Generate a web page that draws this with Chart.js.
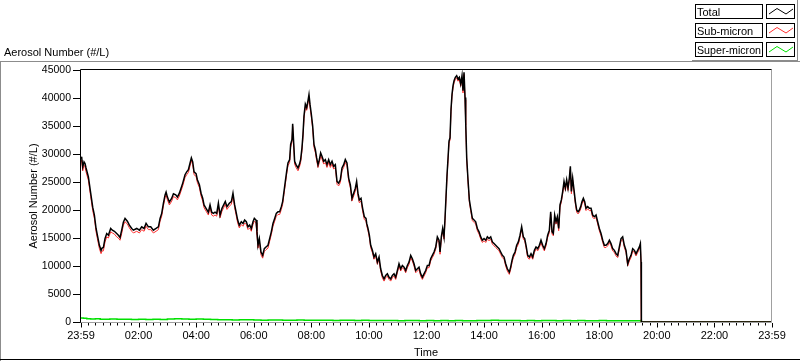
<!DOCTYPE html>
<html>
<head>
<meta charset="utf-8">
<script src="https://cdn.jsdelivr.net/npm/chart.js@4.4.1/dist/chart.umd.min.js"></script>
<style>
  html, body { margin: 0; padding: 0; background: #ffffff; }
  #wrap { width: 800px; height: 361px; }
</style>
</head>
<body>
<div id="wrap"><canvas id="c" width="800" height="361"></canvas></div>
<script>
// ---- DATA (minutes after the 23:59 start; values in #/L) ----
const timeMin = [
  0, 1.5, 3.6, 6.3, 8.4, 10.5, 15.4, 20.2, 24.4, 27.9,
  31.4, 34.1, 38.3, 41.8, 43.9, 46.6, 50.1, 53.6, 57.1, 61.9,
  65.4, 69.6, 74.4, 77.9, 81.4, 84.8, 88.3, 91.8, 96.6, 100.8,
  105.7, 109.2, 116.1, 121.7, 126.5, 131.4, 135.6, 140.4, 145.3, 150.8,
  156.4, 161.3, 164.8, 168.2, 171.7, 175.2, 177.3, 180.1, 184.2, 189.1,
  192.6, 197.4, 200.9, 205.0, 208.5, 212.0, 216.8, 220.3, 223.8, 227.3,
  230.0, 232.8, 235.6, 239.8, 242.5, 246.7, 250.2, 253.6, 256.4, 260.6,
  265.4, 268.9, 272.4, 275.8, 279.3, 282.8, 286.3, 289.8,
  293.8, 297.3, 300.7, 304.2, 309.1, 313.3, 316.7, 320.2, 323.0, 326.5,
  329.9, 334.1, 337.6, 341.0, 344.5, 348.0, 351.5, 354.9, 358.4, 361.2,
  364.7, 366.7, 368.8, 371.6, 375.1, 378.6, 382.0, 385.5, 389.7, 393.1,
  396.6, 400.1, 403.6, 407.0, 410.5, 414.0, 417.5, 420.2, 423.0, 425.8,
  428.6, 431.3, 434.8, 436.9, 439.7, 441.1, 443.2, 445.2, 448.0, 452.2,
  455.0, 457.7, 460.5, 462.6, 464.7, 467.5, 470.3, 473.0, 475.1, 477.2,
  480.0, 482.8, 485.5, 488.3, 491.1, 493.9, 496.7, 499.4, 502.2, 505.7,
  509.2, 512.6, 516.1, 519.6, 523.1, 526.5, 530.0, 533.5, 536.9, 540.4,
  543.9, 547.4, 550.8, 554.3, 557.8, 561.3, 564.7, 568.2, 571.7, 574.4,
  577.2, 580.0, 583.5, 586.9, 590.4, 593.9,
  595.4, 598.1, 600.9, 603.7, 607.2, 610.6, 614.1, 617.6, 621.1, 624.5,
  628.0, 631.5, 635.0, 638.4, 641.9, 645.4, 648.9, 652.3, 655.8, 659.3,
  662.7, 666.2, 669.7, 673.2, 676.6, 680.1, 683.6, 687.1, 690.5, 694.0,
  697.5, 701.0, 704.4, 707.9, 711.4, 714.8, 718.3, 721.8, 725.3, 728.7,
  732.2, 735.7, 739.2, 742.6, 746.1, 748.2, 750.9, 753.7, 756.5, 758.6,
  760.7, 762.8, 764.9, 766.9, 769.0, 771.1, 773.2, 775.3, 777.4, 780.1,
  782.9, 785.7, 788.5, 791.3, 794.0, 796.1, 798.2, 800.3, 801.7, 803.8,
  806.5, 809.3, 812.1, 815.6, 819.1, 822.5, 826.0, 829.5, 833.0, 836.4,
  839.9, 843.4, 846.8, 850.3, 853.8, 857.3, 860.7, 864.2, 867.7, 871.2,
  874.6, 878.1, 881.6, 885.0, 888.5,
  892.6, 895.4, 898.2, 901.0, 904.5, 907.9, 911.4, 914.9, 918.3, 921.8,
  924.6, 927.4, 930.9, 934.3, 937.8, 941.3, 944.8, 948.2, 951.7, 955.2,
  958.6, 962.1, 965.6, 969.1, 972.5, 976.0, 978.8, 981.6, 984.3, 987.1,
  989.9, 992.7, 995.5, 998.2, 1001.0, 1003.8, 1006.6, 1009.4, 1012.1, 1014.9,
  1017.7, 1019.8, 1021.9, 1024.6, 1027.4, 1030.2, 1033.0, 1035.8, 1038.5, 1041.3,
  1044.1, 1046.9, 1049.7, 1052.4, 1055.9, 1059.4, 1062.9, 1066.3, 1069.8, 1073.3,
  1076.7, 1080.2, 1083.7, 1087.2, 1090.6, 1094.1, 1097.6, 1101.1, 1104.5, 1108.0,
  1111.5, 1115.0, 1118.4, 1121.9, 1125.4, 1128.8, 1132.3, 1135.8, 1139.3, 1142.7,
  1146.2, 1149.7, 1153.2, 1156.6, 1160.1, 1163.6, 1165.7, 1167.1, 1167.8, 1440
];
const total = [
  29500, 29300, 27700, 28600, 28300, 27500, 25900, 23000, 20500, 19100,
  16700, 15500, 13700, 12800, 13200, 13300, 14900, 15800, 15500, 16700,
  16400, 16200, 15800, 15500, 15100, 16400, 17800, 18500, 18000, 17300,
  16700, 16400, 16700, 16400, 17000, 16700, 17600, 17000, 17000, 16400,
  16700, 17000, 18500, 19400, 21200, 22700, 23200, 22300, 21400, 22100,
  22900, 22700, 22300, 23000, 23900, 24800, 26300, 26800, 27200, 28400,
  29300, 28600, 26800, 26500, 25400, 24500, 23000, 22100, 20900, 20300,
  19600, 20900, 19600, 19400, 19600, 19400, 21200, 19100,
  20300, 20900, 21500, 20600, 21200, 21500, 23000, 20900, 19700, 18200,
  17300, 17900, 17600, 18200, 17900, 17000, 17300, 16700, 17900, 18500,
  18200, 16100, 13700, 14900, 12500, 11900, 13100, 13400, 13700, 14900,
  16100, 17600, 18500, 19400, 19700, 19700, 20600, 21500, 23300, 25100,
  26900, 28400, 29000, 31700, 32600, 35400, 32000, 28700, 28100, 27500,
  28100, 29000, 31100, 33500, 36800, 38900, 38300, 39500, 40600, 38900,
  37100, 35000, 31700, 30800, 29300, 28100, 29000, 30200, 29600, 28700,
  29000, 28100, 29000, 28100, 28700, 27800, 28100, 25100, 24800, 25400,
  27500, 28100, 29000, 28400, 25700, 24500, 22100, 23000, 23900, 25100,
  23000, 21800, 22100, 20300, 18800, 18500,
  17600, 16700, 15500, 13700, 12800, 11600, 12200, 10700, 11600, 9500,
  8300, 7700, 8300, 8600, 8000, 7700, 8300, 8600, 8000, 9200,
  10400, 9500, 10100, 9800, 9200, 10100, 10700, 11900, 11300, 10400,
  9200, 9500, 9800, 8600, 8000, 8600, 9200, 10100, 10100, 11300,
  11900, 12500, 13400, 15200, 14600, 12500, 15200, 16700, 15200, 18500,
  22400, 26300, 29300, 32300, 32900, 38000, 40700, 42200, 43100, 43700,
  44000, 43400, 43700, 42500, 44000, 41300, 44600, 40100, 35600, 29300,
  25400, 21800, 20300, 18500, 18200, 17900, 16700, 16100, 15200, 14600,
  14900, 14600, 15200, 14900, 15200, 14300, 14000, 13700, 13400, 13100,
  12500, 11900, 11600, 10400, 9500,
  8900, 9800, 11000, 11900, 12500, 13700, 14300, 15500, 17000, 15200,
  14900, 13700, 11900, 11600, 12200, 11600, 12800, 13400, 13100, 13700,
  14600, 13700, 13100, 14000, 15500, 16400, 19700, 16100, 15800, 19100,
  17900, 18800, 16700, 20900, 21800, 23300, 25100, 23900, 25400, 23900,
  25700, 27800, 23300, 25700, 23600, 21500, 20000, 19700, 20000, 20600,
  21500, 22100, 21500, 20300, 20600, 20300, 20300, 19100, 18800, 19100,
  17900, 16700, 15800, 14600, 13700, 13700, 14000, 14600, 14000, 13100,
  12800, 12200, 11900, 13400, 14900, 15200, 13700, 12800, 10400, 11300,
  11900, 13100, 12800, 12200, 12800, 13400, 14000, 10700, 0, 0
];
const subMicron = [
  28900, 28600, 27000, 28000, 27700, 26800, 25300, 22400, 19900, 18500,
  16100, 14900, 13100, 12200, 12700, 12700, 14300, 15200, 15000, 16100,
  15900, 15700, 15200, 15000, 14600, 15800, 17300, 17900, 17500, 16800,
  16200, 15900, 16200, 15900, 16500, 16200, 17100, 16500, 16500, 15900,
  16200, 16500, 18000, 18900, 20700, 22200, 22700, 21800, 20900, 21600,
  22400, 22200, 21800, 22500, 23400, 24300, 25800, 26300, 26700, 27900,
  28800, 28100, 26300, 26000, 24900, 24000, 22500, 21600, 20400, 19800,
  19100, 20400, 19100, 18900, 19100, 18900, 20700, 18600,
  19800, 20400, 21000, 20100, 20700, 21000, 22500, 20400, 19200, 17700,
  16800, 17400, 17100, 17700, 17400, 16500, 16800, 16200, 17400, 18000,
  17700, 15600, 13200, 14400, 12000, 11400, 12600, 12900, 13200, 14400,
  15600, 17100, 18000, 18900, 19200, 19200, 20100, 21000, 22800, 24600,
  26400, 27900, 28500, 31200, 32100, 34900, 31500, 28200, 27600, 27000,
  27600, 28500, 30600, 33000, 36300, 38400, 37800, 39000, 40100, 38400,
  36600, 34500, 31200, 30300, 28800, 27600, 28500, 29700, 29100, 28200,
  28500, 27600, 28500, 27600, 28200, 27300, 27600, 24600, 24300, 24900,
  27000, 27600, 28500, 27900, 25200, 24000, 21600, 22500, 23400, 24600,
  22500, 21300, 21600, 19800, 18300, 18000,
  17200, 16300, 15100, 13300, 12400, 11200, 11800, 10300, 11200, 9100,
  7900, 7300, 7900, 8200, 7600, 7300, 7900, 8200, 7600, 8800,
  10000, 9100, 9700, 9400, 8800, 9700, 10300, 11500, 10900, 10000,
  8800, 9100, 9400, 8200, 7600, 8200, 8800, 9700, 9700, 10900,
  11500, 12100, 13000, 14800, 14200, 12100, 14800, 16300, 14800, 18100,
  22000, 25900, 28900, 31900, 32500, 37600, 40300, 41800, 42700, 43300,
  43600, 43000, 43300, 42100, 43600, 40900, 44200, 39700, 35200, 28900,
  25000, 21400, 19900, 18100, 17800, 17500, 16300, 15700, 14800, 14200,
  14500, 14200, 14800, 14500, 14800, 13900, 13600, 13300, 13000, 12700,
  12100, 11500, 11200, 10000, 9100,
  8500, 9400, 10600, 11500, 12100, 13300, 13900, 15100, 16600, 14800,
  14500, 13300, 11500, 11200, 11800, 11200, 12400, 13000, 12700, 13300,
  14200, 13300, 12700, 13600, 15100, 16000, 19300, 15700, 15400, 18700,
  17500, 18400, 16300, 20500, 21400, 22900, 24700, 23500, 25000, 23500,
  25300, 27400, 22900, 25300, 23200, 21100, 19600, 19300, 19600, 20200,
  21100, 21700, 21100, 19900, 20200, 19900, 19900, 18700, 18400, 18700,
  17500, 16300, 15400, 14200, 13300, 13300, 13600, 14200, 13600, 12700,
  12400, 11800, 11500, 13000, 14500, 14800, 13300, 12400, 10000, 10900,
  11500, 12700, 12400, 11800, 12400, 13000, 13600, 10300, 0, 0
];
const superTimeMin = [
  0, 5, 12, 20, 30, 40, 50, 60,
  75, 90, 105, 120, 135, 150, 165, 180, 195, 210,
  225, 240, 255, 270, 285, 300, 315, 330, 345, 360,
  375, 390, 405, 420, 435, 450, 465, 480, 495, 510,
  525, 540, 555, 570, 585, 600, 615, 630, 645, 660,
  675, 690, 705, 720, 735, 750, 765, 780, 795, 810,
  825, 840, 855, 870, 885, 900, 915, 930, 945, 960,
  975, 990, 1005, 1020, 1035, 1050, 1065, 1080, 1095, 1110,
  1125, 1140, 1155, 1167, 1167.8, 1440
];
const superMicron = [
  720, 650, 560, 520, 560, 500, 480, 520,
  470, 500, 460, 480, 450, 470, 440, 520, 560, 530,
  500, 540, 470, 430, 400, 380, 360, 400, 380, 350,
  330, 360, 340, 300, 320, 350, 330, 310, 300, 320,
  290, 300, 310, 280, 300, 280, 270, 250, 260, 240,
  270, 250, 240, 260, 230, 250, 240, 260, 240, 230,
  250, 280, 300, 270, 250, 260, 240, 250, 230, 260,
  250, 240, 260, 230, 250, 240, 230, 250, 240, 230,
  220, 240, 230, 250, 0, 0
];
const seriesNames = ['Total', 'Sub-micron', 'Super-micron'];
const seriesColors = ['#000000', '#ff3030', '#00e000'];
const xTickMinutes = [0, 120, 240, 360, 480, 600, 720, 840, 960, 1080, 1200, 1320, 1440];
const xTickLabels = ['23:59', '02:00', '04:00', '06:00', '08:00', '10:00', '12:00', '14:00', '16:00', '18:00', '20:00', '22:00', '23:59'];
const yTickValues = [0, 5000, 10000, 15000, 20000, 25000, 30000, 35000, 40000, 45000];
const yAxisTitle = 'Aerosol Number (#/L)';
const xAxisTitle = 'Time';
const topLabel = 'Aerosol Number (#/L)';

// ---- build points ----
function pts(t, v) {
  const n = Math.min(t.length, v.length);
  const out = [];
  for (let i = 0; i < n; i++) out.push({ x: t[i], y: v[i] });
  return out;
}

const FONT = "'Liberation Sans', Arial, sans-serif";

const decor = {
  id: 'decor',
  afterDraw(chart) {
    const ctx = chart.ctx;
    const a = chart.chartArea;
    const xs = chart.scales.x;
    ctx.save();
    // outer panel lines
    ctx.lineWidth = 1;
    ctx.strokeStyle = '#8c8c8c';
    ctx.beginPath();
    ctx.moveTo(0, 61.5); ctx.lineTo(800, 61.5);
    ctx.moveTo(0.5, 61); ctx.lineTo(0.5, 361);
    ctx.moveTo(692, 60.5); ctx.lineTo(798, 60.5);
    ctx.moveTo(797.5, 0); ctx.lineTo(797.5, 61);
    ctx.stroke();
    ctx.strokeStyle = '#000';
    ctx.beginPath();
    ctx.moveTo(0, 359.5); ctx.lineTo(800, 359.5);
    ctx.stroke();

    // plot frame: top/left black, right/bottom gray
    const L = Math.round(a.left) - 0.5, R = Math.round(a.right) - 0.5;
    const T = Math.round(a.top) - 0.5, B = Math.round(a.bottom) + 0.5;
    ctx.strokeStyle = '#a0a0a0';
    ctx.beginPath();
    ctx.moveTo(R, T); ctx.lineTo(R, B);
    ctx.moveTo(L, B); ctx.lineTo(R, B);
    ctx.stroke();
    ctx.strokeStyle = '#000';
    ctx.beginPath();
    ctx.moveTo(L, B); ctx.lineTo(L, T); ctx.lineTo(R, T);
    ctx.stroke();

    // x tick marks: majors every 2 h, minors every 15 min
    ctx.strokeStyle = '#000';
    ctx.beginPath();
    for (let m = 0; m <= 1440; m += 15) {
      const px = Math.round(xs.getPixelForValue(m)) + 0.5;
      const major = xTickMinutes.indexOf(m) >= 0;
      ctx.moveTo(px, B + 0.5);
      ctx.lineTo(px, B + (major ? 5 : 3));
    }
    ctx.stroke();

    // titles
    ctx.fillStyle = '#000';
    ctx.font = '11px ' + FONT;
    ctx.textBaseline = 'alphabetic';
    ctx.textAlign = 'left';
    ctx.fillText(topLabel, 4, 56);
    ctx.textAlign = 'center';
    ctx.fillText(xAxisTitle, 426, 356);
    ctx.save();
    ctx.translate(37, 196);
    ctx.rotate(-Math.PI / 2);
    ctx.fillText(yAxisTitle, 0, 0);
    ctx.restore();

    // legend
    const rowsY = [4, 23, 42];
    ctx.textAlign = 'left';
    for (let i = 0; i < seriesNames.length; i++) {
      const y0 = rowsY[i];
      ctx.strokeStyle = '#000';
      ctx.lineWidth = 1;
      ctx.strokeRect(695.5, y0 + 0.5, 67, 14);
      ctx.strokeRect(766.5, y0 + 0.5, 28, 14);
      ctx.fillStyle = '#000';
      ctx.fillText(seriesNames[i], 697, y0 + 12, 64);
      ctx.strokeStyle = seriesColors[i];
      ctx.beginPath();
      ctx.moveTo(769, y0 + 10);
      ctx.lineTo(777, y0 + 4.5);
      ctx.lineTo(786, y0 + 10);
      ctx.lineTo(793, y0 + 5);
      ctx.stroke();
    }
    ctx.restore();
  }
};

new Chart(document.getElementById('c'), {
  type: 'line',
  data: {
    datasets: [
      { label: seriesNames[0], data: pts(timeMin, total), borderColor: seriesColors[0], borderWidth: 1.5 },
      { label: seriesNames[1], data: pts(timeMin, subMicron), borderColor: seriesColors[1], borderWidth: 1 },
      { label: seriesNames[2], data: pts(superTimeMin, superMicron), borderColor: seriesColors[2], borderWidth: 1.5, stepped: true }
    ]
  },
  options: {
    responsive: false,
    animation: false,
    devicePixelRatio: 1,
    parsing: false,
    elements: { point: { radius: 0 }, line: { tension: 0, fill: false, borderJoinStyle: 'miter' } },
    layout: { padding: { top: 70, right: 28, left: 0, bottom: 0 } },
    plugins: { legend: { display: false }, tooltip: { enabled: false }, title: { display: false } },
    scales: {
      x: {
        type: 'linear',
        min: 0, max: 1440,
        afterBuildTicks: (s) => { s.ticks = xTickMinutes.map(v => ({ value: v })); },
        afterFit: (s) => { s.height = 39; },
        grid: { display: false, drawTicks: false },
        border: { display: false },
        ticks: {
          autoSkip: false, maxRotation: 0, padding: 7,
          color: '#000', font: { family: FONT, size: 11 },
          callback: (v) => { const i = xTickMinutes.indexOf(v); return i >= 0 ? xTickLabels[i] : ''; }
        }
      },
      y: {
        min: 0, max: 45000,
        afterBuildTicks: (s) => { s.ticks = yTickValues.map(v => ({ value: v })); },
        afterFit: (s) => { s.width = 81; },
        grid: { drawOnChartArea: false, drawTicks: true, tickLength: 8, color: '#000' },
        border: { display: false },
        ticks: {
          padding: 2, color: '#000', font: { family: FONT, size: 10.5 },
          callback: (v) => String(v)
        }
      }
    }
  },
  plugins: [decor]
});
</script>
</body>
</html>
